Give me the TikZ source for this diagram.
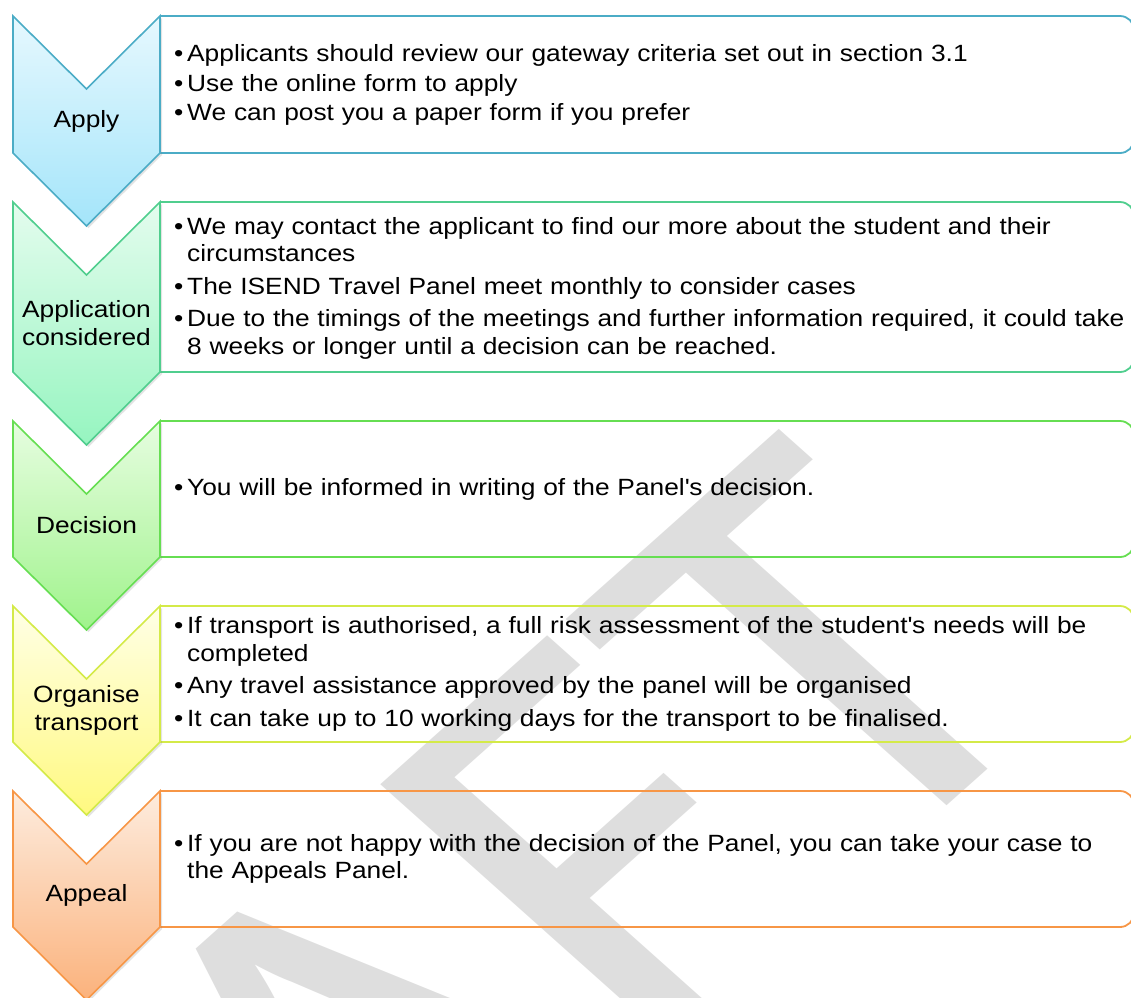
\documentclass[tikz,border=0pt]{standalone}
\usepackage{fontspec}
\setmainfont{Liberation Sans}[FakeStretch=1.12]
\newfontfamily\markfont{Carlito}
\usetikzlibrary{shadows}

\definecolor{apline}{RGB}{75,172,198}
\definecolor{aptop}{RGB}{230,248,254}
\definecolor{apbot}{RGB}{164,229,250}
\definecolor{coline}{RGB}{80,206,142}
\definecolor{cotop}{RGB}{228,252,238}
\definecolor{cobot}{RGB}{150,245,192}
\definecolor{deline}{RGB}{102,222,82}
\definecolor{detop}{RGB}{230,253,224}
\definecolor{debot}{RGB}{160,243,140}
\definecolor{orline}{RGB}{212,234,72}
\definecolor{ortop}{RGB}{255,255,230}
\definecolor{orbot}{RGB}{255,249,128}
\definecolor{appline}{RGB}{247,150,70}
\definecolor{apptop}{RGB}{253,236,222}
\definecolor{appbot}{RGB}{251,178,124}

% chevron between top edge #1 and bottom edge #2
\newcommand{\chevron}[2]{(13,#1) -- (86.5,#1+73) -- (160,#1) -- (160,#2) -- (86.5,#2+73) -- (13,#2) -- cycle}
% box to the right of a chevron, square on the left, round on the right
\newcommand{\stepframe}[2]{(160,#1) -- (1134,#1) -- (1134,#2) -- (160,#2)}
% one bullet line of a box
\newcommand{\bitem}{\hangindent=13pt\hangafter=1\noindent\makebox[13pt][l]{\textbullet}}

\tikzset{
  chev/.style={line width=1.6pt, line join=miter,
    drop shadow={opacity=0.22, shadow xshift=2pt, shadow yshift=-2pt}},
  stepframe/.style={line width=1.8pt, rounded corners=14pt},
  steplabel/.style={align=center, inner sep=0pt,
    font=\fontsize{23.5}{27.5}\selectfont},
  stepbody/.style={anchor=west, inner sep=0pt, text width=1000pt,
    execute at begin node=\raggedright,
    font=\fontsize{23.5}{27.5}\selectfont}
}

\begin{document}
\begin{tikzpicture}[x=1pt, y=-1pt]
  \useasboundingbox (0,0) rectangle (1131,997);

  %--- watermark ---
  \begin{scope}[xscale=1.12]
    \node[transform shape, rotate=45, anchor=base east, inner sep=0pt, text=black!13,
      font=\markfont\fontsize{580}{580}\selectfont] (draftmark) at (964,687) {DRAFT};
  \end{scope}

  %--- Apply ---
  \draw[stepframe, apline] \stepframe{16}{153};
  \draw[chev, draw=apline, top color=aptop, bottom color=apbot] \chevron{16}{153};
  \node[steplabel] (apply) at (86.5,121) {Apply};
  \node[stepbody] (applytext) at (174,85) {\parskip=2pt
    \bitem Applicants should review our gateway criteria set out in section 3.1\par
    \bitem Use the online form to apply\par
    \bitem We can post you a paper form if you prefer\par};

  %--- Application considered ---
  \draw[stepframe, coline] \stepframe{202}{372};
  \draw[chev, draw=coline, top color=cotop, bottom color=cobot] \chevron{202}{372};
  \node[steplabel] (considered) at (86.5,323) {Application\\considered};
  \node[stepbody] (consideredtext) at (174,288) {\parskip=5pt
    \bitem We may contact the applicant to find our more about the student and their\newline circumstances\par
    \bitem The ISEND Travel Panel meet monthly to consider cases\par
    \bitem Due to the timings of the meetings and further information required, it could take\newline 8 weeks or longer until a decision can be reached.\par};

  %--- Decision ---
  \draw[stepframe, deline] \stepframe{421}{557};
  \draw[chev, draw=deline, top color=detop, bottom color=debot] \chevron{421}{557};
  \node[steplabel] (decision) at (86.5,525.5) {Decision};
  \node[stepbody] (decisiontext) at (174,489) {%
    \bitem You will be informed in writing of the Panel\textquotesingle s decision.\par};

  %--- Organise transport ---
  \draw[stepframe, orline] \stepframe{606}{742};
  \draw[chev, draw=orline, top color=ortop, bottom color=orbot] \chevron{606}{742};
  \node[steplabel] (organise) at (86.5,710.5) {Organise\\transport};
  \node[stepbody] (organisetext) at (174,674) {\parskip=5pt
    \bitem If transport is authorised, a full risk assessment of the student\textquotesingle s needs will be\newline completed\par
    \bitem Any travel assistance approved by the panel will be organised\par
    \bitem It can take up to 10 working days for the transport to be finalised.\par};

  %--- Appeal ---
  \draw[stepframe, appline] \stepframe{791}{927};
  \draw[chev, draw=appline, top color=apptop, bottom color=appbot] \chevron{791}{927};
  \node[steplabel] (appeal) at (86.5,895.5) {Appeal};
  \node[stepbody] (appealtext) at (174,859) {%
    \bitem If you are not happy with the decision of the Panel, you can take your case to\newline the Appeals Panel.\par};
\end{tikzpicture}
\end{document}
